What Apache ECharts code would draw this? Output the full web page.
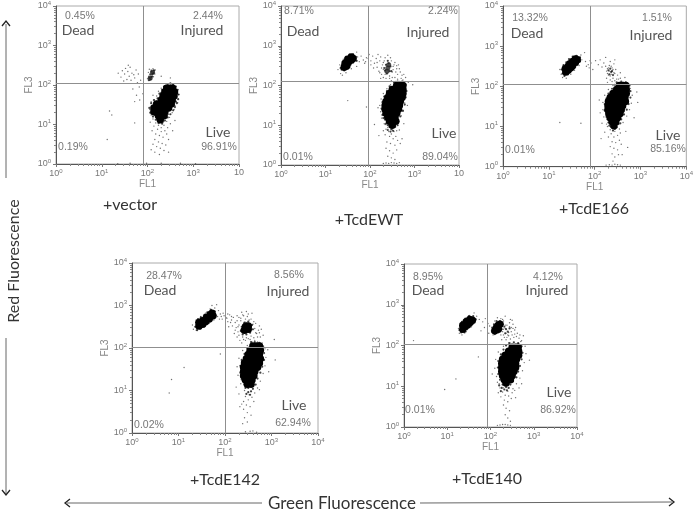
<!DOCTYPE html>
<html><head><meta charset="utf-8">
<style>html,body{margin:0;padding:0;background:#fff}#c{width:696px;height:511px}</style>
<script src="https://cdn.jsdelivr.net/npm/echarts@6/dist/echarts.min.js"></script>
</head><body><div id="c"></div>
<script>
// All event coordinates as [log10 FL1, log10 FL3].
const panelNames = ['+vector', '+TcdEWT', '+TcdE166', '+TcdE142', '+TcdE140'];
const deadPct = ['0.45%', '8.71%', '13.32%', '28.47%', '8.95%'];
const injuredPct = ['2.44%', '2.24%', '1.51%', '8.56%', '4.12%'];
const doublePct = ['0.19%', '0.01%', '0.01%', '0.02%', '0.01%'];
const livePct = ['96.91%', '89.04%', '85.16%', '62.94%', '86.92%'];
const gateFL1 = [1.90, 1.955, 1.896, 2.0, 1.92];
const gateFL3 = [2.04, 2.11, 2.04, 2.016, 2.04];
const tickExponents = [0, 1, 2, 3, 4];

const vectorCore = [[2.42,1.92],[2.50,1.92],[2.55,1.92],[2.38,1.82],[2.46,1.82],[2.54,1.82],[2.59,1.82],[2.34,1.72],[2.42,1.72],[2.50,1.72],[2.58,1.72],[2.30,1.62],[2.38,1.62],[2.46,1.62],[2.54,1.62],[2.20,1.52],[2.28,1.52],[2.36,1.52],[2.44,1.52],[2.52,1.52],[2.14,1.42],[2.22,1.42],[2.30,1.42],[2.38,1.42],[2.46,1.42],[2.14,1.32],[2.22,1.32],[2.30,1.32],[2.38,1.32],[2.24,1.22],[2.30,1.22],[2.36,1.22],[2.28,1.12]];
const vectorFringe = [[2.44,2.02],[2.50,2.04],[2.56,2.02],[2.62,1.96],[2.36,1.96],[2.66,1.88],[2.68,1.76],[2.67,1.64],[2.64,1.54],[2.60,1.44],[2.56,1.36],[2.50,1.26],[2.44,1.18],[2.38,1.10],[2.32,1.02],[2.24,1.04],[2.18,1.12],[2.12,1.20],[2.06,1.30],[2.04,1.42],[2.08,1.54],[2.14,1.62],[2.22,1.66],[2.26,1.78],[2.32,1.88],[2.10,1.36],[2.16,1.24],[2.22,1.14],[2.30,1.12],[2.42,1.24],[2.62,1.58],[2.40,1.98],[2.30,1.80],[2.20,1.58],[2.04,2.18],[2.07,2.14],[2.10,2.22],[2.13,2.30],[2.09,2.34],[2.06,2.27],[2.14,2.37],[2.03,2.12],[2.08,2.20],[2.11,2.28]];
const vectorKnots = [[2.06,2.18],[2.11,2.32]];
const vectorDots = [[2.02,2.32],[2.05,2.12],[2.08,2.38],[2.14,2.36],[2.16,2.28],[2.03,2.22],[2.00,2.16],[2.09,2.27],[2.13,2.21],[2.17,2.38],[2.04,2.40],[2.12,2.41],
[1.45,2.36],[1.50,2.28],[1.52,2.42],[1.57,2.34],[1.60,2.22],[1.62,2.45],[1.66,2.30],[1.72,2.18],[1.75,2.38],[1.42,2.20],[1.55,2.14],[1.64,2.12],[1.70,2.26],[1.80,2.28],[1.36,2.30],[1.58,2.50],[1.48,2.10],[1.85,2.12],[1.78,2.06],[1.68,1.90],[1.76,1.74],[1.83,1.62],[1.72,1.58],[1.90,1.78],[1.82,1.95],[1.17,1.34],[1.22,1.24],[1.72,1.04],[1.12,0.62],
[2.60,1.92],[2.62,1.70],[2.66,1.55],[2.64,1.82],[2.60,1.48],[2.68,1.76],[2.56,2.00],[2.46,2.03],[2.38,1.98],[2.30,1.92],[2.24,1.84],[2.20,1.72],[2.15,1.62],[2.12,1.74],[2.08,1.58],[2.10,1.46],[2.05,1.38],[2.08,1.24],[2.12,1.14],[2.18,1.04],[2.24,0.98],[2.30,0.92],[2.36,0.98],[2.42,1.08],[2.48,1.18],[2.54,1.30],[2.58,1.38],[2.46,1.26],[2.40,1.16],[2.17,1.22],[2.20,1.12],[2.26,1.04],[2.34,1.06],[2.14,0.96],[2.22,0.88],[2.30,0.82],[2.38,0.84],[2.44,0.92],[2.50,1.02],[2.06,1.06],[2.10,0.84],[2.18,0.76],[2.26,0.72],[2.34,0.68],[2.42,0.76],[2.16,0.62],[2.24,0.56],[2.32,0.52],[2.12,0.50],[2.20,0.44],[2.28,0.40],[2.40,0.48],[2.16,0.30],[2.26,0.24],[2.36,0.34],[2.08,0.36],[2.46,0.62],[2.55,0.84],[2.60,1.10],[2.50,2.18],[2.30,2.22],[2.46,0.30],[1.98,0.02],[1.62,0.02],[1.35,0.01],[2.30,0.02],[2.72,0.02],[3.05,0.01]];

const ewtCore = [[1.42,2.46],[1.48,2.50],[1.44,2.56],[1.52,2.60],[1.50,2.66],[1.58,2.64],[1.58,2.72],[1.62,2.68],[2.60,2.00],[2.68,2.00],[2.74,2.00],[2.50,1.90],[2.58,1.90],[2.66,1.90],[2.74,1.90],[2.44,1.80],[2.52,1.80],[2.60,1.80],[2.68,1.80],[2.74,1.80],[2.40,1.70],[2.48,1.70],[2.56,1.70],[2.64,1.70],[2.72,1.70],[2.36,1.60],[2.44,1.60],[2.52,1.60],[2.60,1.60],[2.68,1.60],[2.34,1.50],[2.42,1.50],[2.50,1.50],[2.58,1.50],[2.66,1.50],[2.34,1.40],[2.42,1.40],[2.50,1.40],[2.58,1.40],[2.64,1.40],[2.36,1.30],[2.44,1.30],[2.52,1.30],[2.60,1.30],[2.40,1.20],[2.48,1.20],[2.56,1.20],[2.44,1.10],[2.52,1.10],[2.58,1.10],[2.50,1.00]];
const ewtFringe = [[1.36,2.40],[1.38,2.52],[1.34,2.44],[1.42,2.62],[1.46,2.72],[1.54,2.78],[1.62,2.78],[1.68,2.72],[1.70,2.62],[1.62,2.58],[1.56,2.52],[1.50,2.42],[1.42,2.38],[2.34,2.38],[2.36,2.52],[2.42,2.56],[2.46,2.48],[2.44,2.36],[2.38,2.30],[2.40,2.62],[2.48,2.36],[2.32,2.44],[2.54,2.08],[2.62,2.10],[2.72,2.10],[2.80,2.02],[2.82,1.86],[2.80,1.70],[2.78,1.52],[2.74,1.36],[2.68,1.22],[2.64,1.10],[2.56,0.96],[2.48,0.90],[2.40,1.00],[2.34,1.14],[2.28,1.26],[2.26,1.42],[2.28,1.58],[2.32,1.72],[2.38,1.86],[2.44,1.98],[2.36,1.04],[2.44,0.96],[2.54,1.02],[2.62,1.00],[2.46,0.84],[2.40,0.88],[2.52,0.86],[2.30,1.18]];
const ewtKnots = [[2.40,2.44],[2.42,2.52],[2.38,2.36]];
const ewtDots = [[1.28,2.40],[1.34,2.30],[1.32,2.52],[1.40,2.66],[1.50,2.72],[1.62,2.80],[1.72,2.72],[1.76,2.60],[1.70,2.48],[1.58,2.42],[1.46,2.32],[1.38,2.26],[1.80,2.74],[1.70,2.84],[1.85,2.64],[1.92,2.70],[1.98,2.78],[2.02,2.62],[2.06,2.74],[2.10,2.56],[2.14,2.68],[2.18,2.78],[2.22,2.62],[2.02,2.52],[2.08,2.44],[2.16,2.46],[2.24,2.72],[2.28,2.52],[2.32,2.62],[2.30,2.40],[2.34,2.28],[2.26,2.28],[2.20,2.36],[2.24,2.18],[2.36,2.18],[2.44,2.24],[2.50,2.34],[2.52,2.48],[2.48,2.62],[2.56,2.58],[2.60,2.42],[2.62,2.28],[2.56,2.20],[2.68,2.34],[2.70,2.18],[2.74,2.14],[2.76,2.28],[2.48,2.12],[2.58,2.10],[2.40,2.76],[2.34,2.70],[2.64,2.52],[2.80,2.20],[2.66,2.10],[2.86,2.08],
[2.30,2.58],[2.26,2.44],[2.22,2.32],[2.46,2.70],[2.52,2.40],[2.58,2.34],[2.54,2.52],[2.66,2.42],[2.62,2.16],[2.44,2.18],[2.30,2.20],[2.50,2.20],[2.72,2.26],[2.60,2.50],[2.16,2.58],[1.90,2.60],[1.96,2.68],[1.88,2.56],
[2.78,1.92],[2.80,1.72],[2.78,1.56],[2.74,1.38],[2.70,1.24],[2.64,1.08],[2.58,0.96],[2.50,0.88],[2.40,0.94],[2.32,1.04],[2.26,1.18],[2.24,1.34],[2.22,1.50],[2.25,1.66],[2.30,1.80],[2.38,1.92],[2.46,2.02],[2.34,1.02],[2.42,0.84],[2.48,0.78],[2.54,0.84],[2.60,0.86],[2.36,0.90],[2.44,0.72],[2.52,0.66],[2.58,0.72],[2.34,0.76],[2.38,0.58],[2.46,0.54],[2.56,0.50],[2.62,0.62],[2.30,0.86],[2.66,0.88],[2.36,0.42],[2.44,0.36],[2.52,0.30],[2.60,0.38],[2.68,0.54],[2.48,0.18],[2.40,0.22],[2.56,0.14],[2.30,0.04],[2.36,0.05],[2.42,0.04],[2.48,0.06],[2.54,0.05],[2.60,0.04],[2.66,0.06],[2.72,0.66],[2.76,1.04],[2.84,1.50],[2.18,1.44],[2.10,1.02],[2.20,0.74],[1.50,1.62],[1.92,1.46],[2.96,2.02]];

const e166Core = [[1.37,2.36],[1.36,2.44],[1.42,2.40],[1.42,2.50],[1.48,2.46],[1.46,2.56],[1.52,2.52],[1.52,2.62],[1.58,2.60],[1.58,2.68],[1.62,2.66],[2.54,2.02],[2.62,2.02],[2.68,2.02],[2.48,1.92],[2.56,1.92],[2.64,1.92],[2.69,1.92],[2.40,1.82],[2.48,1.82],[2.56,1.82],[2.64,1.82],[2.69,1.82],[2.34,1.72],[2.42,1.72],[2.50,1.72],[2.58,1.72],[2.66,1.72],[2.30,1.62],[2.38,1.62],[2.46,1.62],[2.54,1.62],[2.62,1.62],[2.67,1.62],[2.29,1.52],[2.37,1.52],[2.45,1.52],[2.53,1.52],[2.61,1.52],[2.29,1.42],[2.37,1.42],[2.45,1.42],[2.53,1.42],[2.58,1.42],[2.31,1.32],[2.39,1.32],[2.47,1.32],[2.55,1.32],[2.34,1.22],[2.42,1.22],[2.50,1.22],[2.38,1.12],[2.46,1.12],[2.42,1.02]];
const e166Fringe = [[1.30,2.32],[1.28,2.42],[1.32,2.52],[1.38,2.60],[1.44,2.68],[1.52,2.74],[1.60,2.76],[1.68,2.72],[1.68,2.62],[1.62,2.54],[1.56,2.46],[1.48,2.38],[1.42,2.30],[1.34,2.26],[2.48,2.10],[2.58,2.12],[2.68,2.10],[2.76,2.02],[2.78,1.88],[2.78,1.72],[2.74,1.56],[2.70,1.42],[2.64,1.30],[2.58,1.18],[2.52,1.06],[2.44,0.94],[2.36,1.00],[2.30,1.10],[2.26,1.24],[2.22,1.40],[2.22,1.56],[2.26,1.70],[2.30,1.82],[2.38,1.94],[2.44,2.04],[2.32,1.02],[2.40,0.90],[2.48,0.98],[2.56,1.08],[2.28,1.18],[2.36,2.36],[2.32,2.30],[2.34,2.44],[2.38,2.38],[2.30,2.40],[2.40,2.28]];
const e166Knots = [];
const e166Dots = [[1.24,2.42],[1.27,2.30],[1.30,2.22],[1.38,2.20],[1.48,2.30],[1.56,2.40],[1.66,2.52],[1.72,2.66],[1.70,2.78],[1.62,2.76],[1.52,2.70],[1.42,2.62],[1.32,2.54],[1.78,2.84],[1.80,2.62],[1.86,2.54],[1.92,2.58],[1.88,2.46],[1.96,2.42],[2.02,2.64],[2.08,2.54],[2.12,2.66],[2.16,2.48],[2.20,2.58],[2.24,2.72],[2.28,2.44],[2.30,2.28],[2.26,2.20],[2.36,2.50],[2.42,2.56],[2.40,2.20],[2.46,2.42],[2.50,2.28],[2.44,2.66],[2.34,2.62],[2.52,2.18],[2.56,2.34],[2.62,2.10],[2.66,2.22],[2.72,2.06],[2.38,2.12],[2.30,2.46],[2.36,2.30],[2.40,2.42],[2.32,2.38],[2.28,2.32],[2.44,2.32],[2.28,2.10],
[2.34,2.26],[2.38,2.46],[2.42,2.34],[2.26,2.38],[2.32,2.52],[2.24,2.50],[2.48,2.18],[2.34,2.16],[2.44,2.14],[2.56,2.20],[1.82,2.50],[1.90,2.64],
[2.78,1.95],[2.82,1.78],[2.80,1.58],[2.76,1.42],[2.70,1.26],[2.62,1.10],[2.54,0.94],[2.44,0.88],[2.34,0.92],[2.26,1.06],[2.20,1.24],[2.18,1.42],[2.18,1.60],[2.22,1.78],[2.30,1.92],[2.40,2.02],[2.28,1.00],[2.36,0.82],[2.42,0.74],[2.50,0.78],[2.56,0.84],[2.30,0.74],[2.38,0.62],[2.46,0.60],[2.54,0.66],[2.34,0.50],[2.42,0.46],[2.50,0.42],[2.58,0.56],[2.38,0.32],[2.44,0.24],[2.52,0.30],[2.40,0.14],[2.60,0.30],[2.25,0.04],[2.32,0.05],[2.38,0.04],[2.44,0.06],[2.50,0.05],[2.56,0.04],[2.22,0.86],[2.16,1.08],[2.12,1.34],[2.10,1.66],[2.92,1.86],[2.94,1.60],[2.86,1.22],[2.68,0.88],[1.24,1.10],[1.70,1.08],[2.72,0.48],[2.14,0.70]];

const e142Core = [[1.44,2.52],[1.44,2.60],[1.52,2.56],[1.52,2.64],[1.58,2.62],[1.60,2.72],[1.66,2.68],[1.68,2.78],[1.74,2.76],[1.72,2.82],[2.42,2.42],[2.50,2.44],[2.44,2.50],[2.50,2.52],[2.60,2.05],[2.68,2.05],[2.74,2.05],[2.54,1.95],[2.62,1.95],[2.70,1.95],[2.76,1.95],[2.50,1.85],[2.58,1.85],[2.66,1.85],[2.74,1.85],[2.46,1.75],[2.54,1.75],[2.62,1.75],[2.70,1.75],[2.76,1.75],[2.42,1.65],[2.50,1.65],[2.58,1.65],[2.66,1.65],[2.74,1.65],[2.40,1.55],[2.48,1.55],[2.56,1.55],[2.64,1.55],[2.70,1.55],[2.40,1.45],[2.48,1.45],[2.56,1.45],[2.64,1.45],[2.40,1.35],[2.48,1.35],[2.56,1.35],[2.62,1.35],[2.44,1.25],[2.52,1.25],[2.58,1.25],[2.48,1.15],[2.56,1.15]];
const e142Fringe = [[1.36,2.50],[1.38,2.60],[1.42,2.68],[1.48,2.72],[1.56,2.78],[1.62,2.84],[1.70,2.90],[1.78,2.86],[1.80,2.76],[1.72,2.68],[1.64,2.60],[1.56,2.52],[1.48,2.46],[1.40,2.42],[2.34,2.40],[2.36,2.50],[2.42,2.60],[2.50,2.62],[2.58,2.54],[2.60,2.44],[2.54,2.36],[2.46,2.32],[2.38,2.32],[2.56,2.14],[2.64,2.14],[2.74,2.12],[2.82,2.04],[2.84,1.88],[2.84,1.72],[2.80,1.56],[2.76,1.42],[2.70,1.28],[2.66,1.14],[2.60,1.04],[2.50,1.06],[2.42,1.14],[2.36,1.26],[2.33,1.42],[2.33,1.58],[2.36,1.72],[2.42,1.86],[2.48,2.00],[2.44,1.06],[2.56,0.98],[2.50,0.96],[2.46,0.92],[2.54,0.90]];
const e142Knots = [[2.38,2.42],[2.52,2.50],[2.44,2.56]];
const e142Dots = [[1.30,2.54],[1.32,2.44],[1.38,2.42],[1.46,2.44],[1.56,2.50],[1.66,2.58],[1.76,2.66],[1.84,2.74],[1.86,2.88],[1.78,2.94],[1.68,2.92],[1.58,2.82],[1.48,2.74],[1.38,2.66],[1.72,3.00],[1.82,3.02],[1.90,2.80],[1.94,2.68],[1.98,2.76],[2.02,2.72],[2.06,2.62],[2.10,2.78],[2.14,2.66],[2.18,2.72],[2.22,2.60],[2.26,2.76],[2.30,2.54],[2.34,2.64],[2.28,2.38],[2.24,2.48],[2.20,2.34],[2.26,2.26],[2.32,2.18],[2.38,2.26],[2.30,2.72],[2.40,2.76],[2.48,2.74],[2.56,2.68],[2.60,2.56],[2.64,2.46],[2.68,2.34],[2.62,2.24],[2.56,2.28],[2.50,2.22],[2.44,2.18],[2.66,2.58],[2.72,2.42],[2.76,2.26],[2.82,2.30],[2.74,2.52],[2.70,2.14],[2.80,2.12],[2.58,2.82],[2.36,2.84],[2.46,2.86],[2.36,2.12],[2.58,2.14],[3.06,2.20],[2.16,2.52],[2.08,2.50],
[2.30,2.30],[2.28,2.50],[2.34,2.70],[2.44,2.68],[2.52,2.66],[2.62,2.62],[2.66,2.36],[2.70,2.26],[2.74,2.36],[2.64,2.18],[2.54,2.20],[2.46,2.24],[2.40,2.20],[2.78,2.44],[2.22,2.42],[2.26,2.64],[2.12,2.60],[2.04,2.70],[1.92,2.74],[1.88,2.68],[1.96,2.82],[2.06,2.80],[2.14,2.74],[2.38,2.78],[2.50,2.80],
[2.86,1.98],[2.88,1.78],[2.86,1.58],[2.82,1.40],[2.76,1.22],[2.70,1.06],[2.64,0.94],[2.52,0.90],[2.42,1.00],[2.34,1.16],[2.28,1.36],[2.26,1.56],[2.30,1.76],[2.38,1.94],[2.48,2.06],[2.44,0.86],[2.50,0.78],[2.58,0.84],[2.62,0.74],[2.40,0.74],[2.36,0.68],[2.46,0.66],[2.54,0.62],[2.32,0.62],[2.40,0.56],[2.48,0.48],[2.56,0.42],[2.42,0.36],[2.48,0.26],[2.38,0.22],[2.54,0.04],[2.60,0.05],[2.44,0.03],[2.68,0.02],[2.74,1.02],[2.94,1.44],[3.08,1.72],[2.92,1.96],[0.80,0.94],[0.85,1.26],[1.12,1.54],[1.90,1.86],[2.24,1.08],[2.30,0.92]];

const e140Core = [[1.36,2.40],[1.40,2.46],[1.36,2.50],[1.46,2.50],[1.44,2.58],[1.52,2.56],[1.52,2.64],[1.58,2.62],[2.10,2.36],[2.14,2.44],[2.18,2.40],[2.18,2.50],[2.22,2.52],[2.50,1.96],[2.58,1.96],[2.64,1.96],[2.42,1.86],[2.50,1.86],[2.58,1.86],[2.65,1.86],[2.34,1.76],[2.42,1.76],[2.50,1.76],[2.58,1.76],[2.65,1.76],[2.28,1.66],[2.36,1.66],[2.44,1.66],[2.52,1.66],[2.60,1.66],[2.26,1.56],[2.34,1.56],[2.42,1.56],[2.50,1.56],[2.58,1.56],[2.26,1.46],[2.34,1.46],[2.42,1.46],[2.50,1.46],[2.58,1.46],[2.26,1.36],[2.34,1.36],[2.42,1.36],[2.50,1.36],[2.54,1.36],[2.28,1.26],[2.36,1.26],[2.44,1.26],[2.50,1.26],[2.32,1.16],[2.40,1.16],[2.46,1.16],[2.36,1.08]];
const e140Fringe = [[1.28,2.38],[1.30,2.48],[1.34,2.58],[1.42,2.66],[1.50,2.72],[1.60,2.72],[1.66,2.64],[1.60,2.54],[1.52,2.46],[1.46,2.40],[1.40,2.32],[1.32,2.32],[2.04,2.34],[2.04,2.44],[2.08,2.52],[2.14,2.60],[2.22,2.60],[2.28,2.52],[2.26,2.40],[2.18,2.32],[2.10,2.28],[2.44,2.06],[2.54,2.08],[2.64,2.06],[2.72,1.98],[2.74,1.82],[2.72,1.66],[2.68,1.50],[2.64,1.36],[2.60,1.22],[2.52,1.12],[2.46,1.04],[2.36,0.98],[2.28,1.04],[2.22,1.16],[2.18,1.30],[2.17,1.46],[2.18,1.62],[2.24,1.78],[2.30,1.90],[2.36,2.00],[2.26,0.96],[2.32,0.92],[2.38,0.90],[2.42,0.96],[2.20,1.02],[2.24,0.88],[2.36,2.40],[2.40,2.34],[2.34,2.30],[2.44,2.42],[2.32,2.46]];
const e140Knots = [];
const e140Dots = [[1.26,2.42],[1.28,2.30],[1.34,2.26],[1.44,2.34],[1.56,2.46],[1.64,2.56],[1.68,2.72],[1.62,2.80],[1.52,2.74],[1.42,2.66],[1.34,2.54],[1.74,2.64],[1.82,2.58],[1.88,2.66],[1.94,2.54],[1.86,2.44],[1.78,2.36],[1.98,2.48],[1.96,2.30],[2.02,2.36],[2.06,2.26],[2.10,2.60],[2.16,2.68],[2.24,2.66],[2.30,2.60],[2.34,2.50],[2.28,2.34],[2.24,2.26],[2.32,2.20],[2.40,2.26],[2.48,2.34],[2.52,2.52],[2.58,2.44],[2.62,2.30],[2.54,2.20],[2.46,2.16],[2.36,2.14],[2.66,2.18],[2.72,2.12],[2.76,2.24],[2.44,2.56],[2.50,2.62],[2.34,2.72],[2.30,2.40],[2.36,2.30],[2.42,2.32],[2.48,2.44],[2.56,2.28],[2.26,2.14],[0.22,2.12],
[2.38,2.50],[2.42,2.24],[2.50,2.26],[2.56,2.38],[2.60,2.22],[2.44,2.46],[2.38,2.20],[2.30,2.26],[2.34,2.42],[2.52,2.42],[2.68,2.26],[2.70,2.10],[2.46,2.64],[2.28,2.64],
[2.80,1.98],[2.82,1.80],[2.78,1.58],[2.74,1.38],[2.68,1.20],[2.60,1.06],[2.52,0.94],[2.40,0.88],[2.30,0.96],[2.20,1.06],[2.14,1.24],[2.10,1.44],[2.12,1.66],[2.18,1.84],[2.30,1.98],[2.42,2.06],[2.22,0.96],[2.28,0.86],[2.34,0.78],[2.42,0.76],[2.50,0.84],[2.56,0.90],[2.18,0.84],[2.24,0.74],[2.32,0.66],[2.40,0.62],[2.48,0.70],[2.30,0.54],[2.36,0.46],[2.44,0.40],[2.34,0.30],[2.40,0.22],[2.46,0.14],[2.16,0.04],[2.22,0.05],[2.28,0.06],[2.34,0.06],[2.40,0.05],[2.46,0.04],[2.16,1.10],[2.66,0.96],[2.72,1.06],[2.04,1.30],[2.90,1.64],[0.94,0.92],[1.20,1.18],[1.72,1.72],[2.58,0.72]];

const panelCores = [vectorCore, ewtCore, e166Core, e142Core, e140Core];
const panelFringes = [vectorFringe, ewtFringe, e166Fringe, e142Fringe, e140Fringe];
const panelKnots = [vectorKnots, ewtKnots, e166Knots, e142Knots, e140Knots];
const panelDots = [vectorDots, ewtDots, e166Dots, e142Dots, e140Dots];

// layout (pixels)
const frames = [[56,3,183,161],[281,4,178,161],[503,4,185,162.7],[132,263,186,170],[404,264,173,163]];
const spots = [
 {dp:[80,16],d:[78,30],ip:[208,16],i:[202,30],bp:[73,147],l:[218,132],lp:[219,147],c:[130,205]},
 {dp:[299,11],d:[303,31],ip:[443,11],i:[428,32],bp:[298,157],l:[444,133],lp:[440,157],c:[369,220]},
 {dp:[530,18],d:[527,33],ip:[657,18],i:[651,35],bp:[520,150],l:[668,135],lp:[668,149],c:[594,209]},
 {dp:[164,276],d:[160,290],ip:[289,275],i:[288,291],bp:[149,425],l:[294,405],lp:[293,423],c:[225,480]},
 {dp:[428,277],d:[428,290],ip:[548,277],i:[547,290],bp:[420,410],l:[559,392],lp:[558,410],c:[487,479]}
];
const toVal = p => [Math.pow(10,p[0]), Math.pow(10,p[1])];
const grids=[],xAxes=[],yAxes=[],series=[],graphic=[];
const labelRich = {b:{fontSize:9,color:'#777',fontFamily:'Liberation Sans'},s:{fontSize:6,color:'#777',fontFamily:'Liberation Sans',verticalAlign:'bottom',padding:[0,0,6,0]}};
function txt(pos,s,kind){
  const st = {pct:{font:'10.5px "Liberation Sans"',fill:'#777'},word:{font:'14px Lato',fill:'#555'},cap:{font:'16px Lato',fill:'#333'}}[kind];
  graphic.push({type:'text',x:pos[0],y:pos[1],silent:true,style:{text:s,font:st.font,fill:st.fill,align:'center',verticalAlign:'middle'}});
}
function axisBase(i,isX){
  return {type:'log',logBase:10,min:1,max:10000,gridIndex:i,name:isX?'FL1':'FL3',nameLocation:'middle',nameGap:isX?14:22,
    nameTextStyle:{color:'#888',fontSize:10,fontFamily:'Liberation Sans'},
    axisLine:{show:true,onZero:false,lineStyle:{color:'#555',width:1}},
    axisTick:{show:true,length:3,lineStyle:{color:'#777'}},
    minorTick:{show:true,splitNumber:9,length:2,lineStyle:{color:'#888'}},
    splitLine:{show:false},minorSplitLine:{show:false},
    axisLabel:{margin:isX?4:5,hideOverlap:false,showMinLabel:true,showMaxLabel:true,rich:labelRich,
      formatter:v=>{const e=tickExponents[Math.round(Math.log10(v))];
        if(isX&&e===4&&i<2) return '{b|10}';
        return '{b|10}{s|'+e+'}';}}};
}
panelNames.forEach((name,i)=>{
  const f=frames[i];
  grids.push({left:f[0],top:f[1],width:f[2],height:f[3],show:true,borderColor:'#aaa',borderWidth:1,backgroundColor:'transparent'});
  xAxes.push(axisBase(i,true)); yAxes.push(axisBase(i,false));
  series.push({type:'scatter',xAxisIndex:i,yAxisIndex:i,silent:true,symbolSize:1.4,itemStyle:{color:'#333',opacity:.7},data:panelDots[i].map(toVal),
    markLine:{silent:true,symbol:'none',label:{show:false},animation:false,lineStyle:{color:'#8f8f8f',width:1,type:'solid'},
      data:[{xAxis:Math.pow(10,gateFL1[i])},{yAxis:Math.pow(10,gateFL3[i])}]}});
  series.push({type:'scatter',xAxisIndex:i,yAxisIndex:i,silent:true,symbolSize:2.2,itemStyle:{color:'#111'},data:panelFringes[i].map(toVal)});
  series.push({type:'scatter',xAxisIndex:i,yAxisIndex:i,silent:true,symbolSize:5,itemStyle:{color:'#222'},data:panelKnots[i].map(toVal)});
  series.push({type:'scatter',xAxisIndex:i,yAxisIndex:i,silent:true,symbolSize:7.5,itemStyle:{color:'#000',opacity:1},data:panelCores[i].map(toVal)});
  const s=spots[i];
  txt(s.dp,deadPct[i],'pct'); txt(s.d,'Dead','word'); txt(s.ip,injuredPct[i],'pct'); txt(s.i,'Injured','word');
  txt(s.bp,doublePct[i],'pct'); txt(s.l,'Live','word'); txt(s.lp,livePct[i],'pct'); txt(s.c,name,'cap');
});
// outer annotation arrows
const lineSt={stroke:'#666',lineWidth:1};
const seg=(a,b,c,d)=>graphic.push({type:'line',silent:true,shape:{x1:a,y1:b,x2:c,y2:d},style:lineSt});
const arrow=(pts)=>graphic.push({type:'polyline',silent:true,shape:{points:pts},style:{stroke:'#222',lineWidth:1.3,fill:null}});
seg(6,24,6,178); arrow([[2,26],[6,21],[10,26]]);
seg(6,338,6,494); arrow([[2,490],[6,495],[10,490]]);
seg(67,503,262,503); arrow([[70,499],[65,503],[70,507]]);
seg(420,503,672,502); arrow([[669,498],[674,502],[669,506]]);
graphic.push({type:'text',x:14,y:261,rotation:Math.PI/2,silent:true,style:{text:'Red Fluorescence',font:'16px Lato',fill:'#333',align:'center',verticalAlign:'middle'}});
graphic.push({type:'text',x:342,y:504,silent:true,style:{text:'Green Fluorescence',font:'17px Lato',fill:'#333',align:'center',verticalAlign:'middle'}});

const chart=echarts.init(document.getElementById('c'),null,{renderer:'canvas'});
chart.setOption({animation:false,backgroundColor:'#fff',grid:grids,xAxis:xAxes,yAxis:yAxes,series:series,graphic:graphic});
</script></body></html>
